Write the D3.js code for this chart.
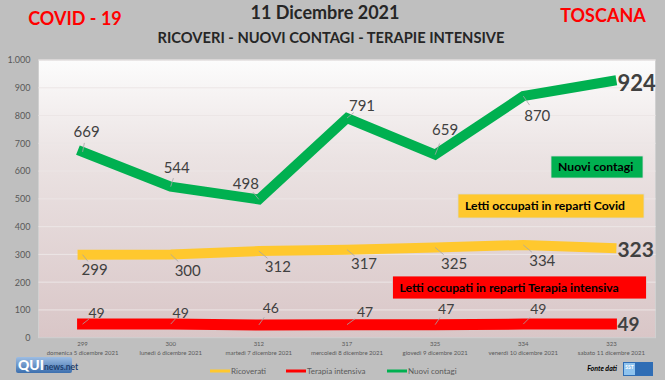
<!DOCTYPE html>
<html><head><meta charset="utf-8">
<script src="https://cdn.jsdelivr.net/npm/d3@7"></script>
<style>
html,body{margin:0;padding:0;background:#bfbfbf;}
svg{display:block;font-family:Lato,"Open Sans",sans-serif;}
</style></head>
<body>
<svg id="c" width="665" height="380"></svg>
<script>
const categories = ["domenica 5 dicembre 2021","lunedì 6 dicembre 2021","martedì 7 dicembre 2021","mercoledì 8 dicembre 2021","giovedì 9 dicembre 2021","venerdì 10 dicembre 2021","sabato 11 dicembre 2021"];
const ricoverati = [299,300,312,317,325,334,323];
const terapiaIntensiva = [49,49,46,47,47,49,49];
const nuoviContagi = [669,544,498,791,659,870,924];
const yTicks = [0,100,200,300,400,500,600,700,800,900,1000];
const seriesNames = ["Ricoverati","Terapia intensiva","Nuovi contagi"];

// label offsets (layout only)
const greenOff = [[4,-20],[6,-19],[-13,-16],[15,-12],[10,-25],[14,20]];
const yellowOff = [[12,15],[17,16],[19,16],[17,14],[19,16],[19,16]];
const redOff = [[14,-11],[10,-11],[12,-17],[18,-13],[11,-16],[15,-15]];

const svg = d3.select("#c");
const W=665,H=380;
const plot = {l:38.5,r:655.5,t:60,b:337.7};
const x = d3.scaleBand().domain(d3.range(categories.length)).range([plot.l,plot.r]);
const cx = i => x(i)+x.bandwidth()/2;
const y = d3.scaleLinear().domain([0,1000]).range([plot.b,plot.t]);

const defs = svg.append("defs");
const g = defs.append("linearGradient").attr("id","bg").attr("x1",0).attr("y1",0).attr("x2",0).attr("y2",1);
g.append("stop").attr("offset",0).attr("stop-color","#fcfcfc");
g.append("stop").attr("offset",0.35).attr("stop-color","#ebe3e3");
g.append("stop").attr("offset",1).attr("stop-color","#d9c6c7");
const lg = defs.append("linearGradient").attr("id","logo").attr("x1",0).attr("y1",0).attr("x2",0).attr("y2",1);
lg.append("stop").attr("offset",0).attr("stop-color","#9dbde3");
lg.append("stop").attr("offset",1).attr("stop-color","#3c6fae");

svg.append("rect").attr("width",W).attr("height",H).attr("fill","#bfbfbf");
svg.append("rect").attr("x",plot.l).attr("y",plot.t).attr("width",plot.r-plot.l).attr("height",plot.b-plot.t)
  .attr("fill","url(#bg)").attr("stroke","#d0d0d0").attr("stroke-width",1);

// gridlines
svg.append("g").selectAll("line").data(yTicks.filter(d=>d>0)).join("line")
  .attr("x1",plot.l).attr("x2",plot.r).attr("y1",d=>y(d)).attr("y2",d=>y(d))
  .attr("stroke","#ece6e6").attr("stroke-width",1);

// y axis
const fmt = d3.formatLocale({decimal:",",thousands:".",grouping:[3],currency:["€",""]}).format(",d");
const yAxis = d3.axisLeft(y).tickValues(yTicks).tickFormat(fmt).tickSize(0).tickPadding(8);
const ya = svg.append("g").attr("transform",`translate(${plot.l},0)`).call(yAxis);
ya.select(".domain").remove();
ya.selectAll("text").attr("font-size",9).attr("fill","#595959").attr("font-family","Lato,sans-serif");

// x axis labels
const xa = svg.append("g");
categories.forEach((c,i)=>{
  xa.append("text").attr("x",cx(i)).attr("y",346).attr("text-anchor","middle").attr("font-size",6).attr("fill","#595959").text(ricoverati[i]);
  xa.append("text").attr("x",cx(i)).attr("y",355).attr("text-anchor","middle").attr("font-size",6).attr("fill","#595959").text(c);
});

// lines
const line = d3.line().x((d,i)=>cx(i)).y(d=>y(d));
function drawLine(data,color,w){
  svg.append("path").datum(data).attr("d",line).attr("fill","none").attr("stroke",color)
    .attr("stroke-width",w).attr("stroke-linecap","square").attr("stroke-linejoin","miter");
}
drawLine(ricoverati,"#ffc82e",10);
drawLine(terapiaIntensiva,"#ff0000",11);
drawLine(nuoviContagi,"#00b050",10);

// labels
function labels(data,off,size,lead){
  const gg = svg.append("g");
  data.slice(0,-1).forEach((v,i)=>{
    const px=cx(i), py=y(v), lx=px+off[i][0], ly=py+off[i][1];
    if(lead){
      gg.append("line").attr("x1",px).attr("y1",py).attr("x2",px+(lx-px)*0.45).attr("y2",py+(ly-py)*0.45)
        .attr("stroke","#a6a6a6").attr("stroke-width",0.8);
    }
    gg.append("text").attr("x",lx).attr("y",ly).attr("dy","0.35em").attr("text-anchor","middle")
      .attr("font-size",size).attr("fill","#404040").text(v);
  });
  const n=data.length-1;
  return {x:cx(n),y:y(data[n]),v:data[n]};
}
const gEnd = labels(nuoviContagi,greenOff,15,true);
const yEnd = labels(ricoverati,yellowOff,15,true);
const rEnd = labels(terapiaIntensiva,redOff,14,true);
[[gEnd,22,2],[yEnd,21,2],[rEnd,19,0]].forEach(([e,s,dy])=>{
  svg.append("text").attr("x",e.x+6).attr("y",e.y+dy).attr("dy","0.35em").attr("font-size",s)
    .attr("font-weight","bold").attr("fill","#404040").text(e.v);
});

// annotation boxes
function box(x0,y0,w,h,fill,txt){
  svg.append("rect").attr("x",x0).attr("y",y0).attr("width",w).attr("height",h).attr("fill",fill)
    .attr("stroke","#d8d8d8").attr("stroke-width",0.8);
  svg.append("text").attr("x",x0+7).attr("y",y0+h/2).attr("dy","0.35em").attr("font-size",12.2)
    .attr("font-weight","bold").attr("fill","#000").text(txt);
}
box(551,156,92,22,"#00b050","Nuovi contagi");
box(458,194,186,24,"#ffc82e","Letti occupati in reparti Covid");
box(392.5,276,254,23,"#ff0000","Letti occupati in reparti Terapia intensiva");

// titles
svg.append("text").attr("x",75).attr("y",19).attr("dy","0.35em").attr("text-anchor","middle").attr("font-size",18)
  .attr("font-weight","bold").attr("fill","#ff0000").text("COVID - 19");
svg.append("text").attr("x",603).attr("y",16).attr("dy","0.35em").attr("text-anchor","middle").attr("font-size",18)
  .attr("font-weight","bold").attr("fill","#ff0000").text("TOSCANA");
svg.append("text").attr("x",325).attr("y",13).attr("dy","0.35em").attr("text-anchor","middle").attr("font-size",18)
  .attr("font-weight","bold").attr("fill","#262626").text("11 Dicembre 2021");
svg.append("text").attr("x",331).attr("y",38).attr("dy","0.35em").attr("text-anchor","middle").attr("font-size",14.7)
  .attr("font-weight","bold").attr("fill","#262626").text("RICOVERI - NUOVI CONTAGI - TERAPIE INTENSIVE");

// legend
const legColors = ["#ffc82e","#ff0000","#00b050"];
const legX = [210,286,387];
seriesNames.forEach((n,i)=>{
  svg.append("line").attr("x1",legX[i]).attr("x2",legX[i]+20).attr("y1",371).attr("y2",371)
    .attr("stroke",legColors[i]).attr("stroke-width",3);
  svg.append("text").attr("x",legX[i]+21).attr("y",371).attr("dy","0.35em").attr("font-size",8)
    .attr("fill","#595959").text(n);
});

// logos
svg.append("rect").attr("x",16).attr("y",357).attr("width",56).attr("height",16).attr("rx",2).attr("fill","url(#logo)");
svg.append("text").attr("x",18).attr("y",365.5).attr("dy","0.35em").attr("font-size",14).attr("font-weight","900").attr("fill","#fff").text("QUI");
svg.append("text").attr("x",44).attr("y",367).attr("dy","0.35em").attr("font-size",8.5).attr("font-weight","bold").attr("fill","#1f3f6e").text("news.net");
svg.append("text").attr("x",617).attr("y",369).attr("dy","0.35em").attr("text-anchor","end").attr("font-size",7)
  .attr("font-weight","bold").attr("font-style","italic").attr("fill","#000").text("Fonte dati");
svg.append("rect").attr("x",623).attr("y",362).attr("width",30).attr("height",14).attr("fill","#2f6db5");
svg.append("rect").attr("x",624).attr("y",363).attr("width",11).attr("height",12).attr("fill","#8fc3ee");
svg.append("text").attr("x",629.5).attr("y",367).attr("dy","0.35em").attr("text-anchor","middle").attr("font-size",5).attr("font-weight","bold").attr("fill","#fff").text("SST");
</script>
</body></html>
